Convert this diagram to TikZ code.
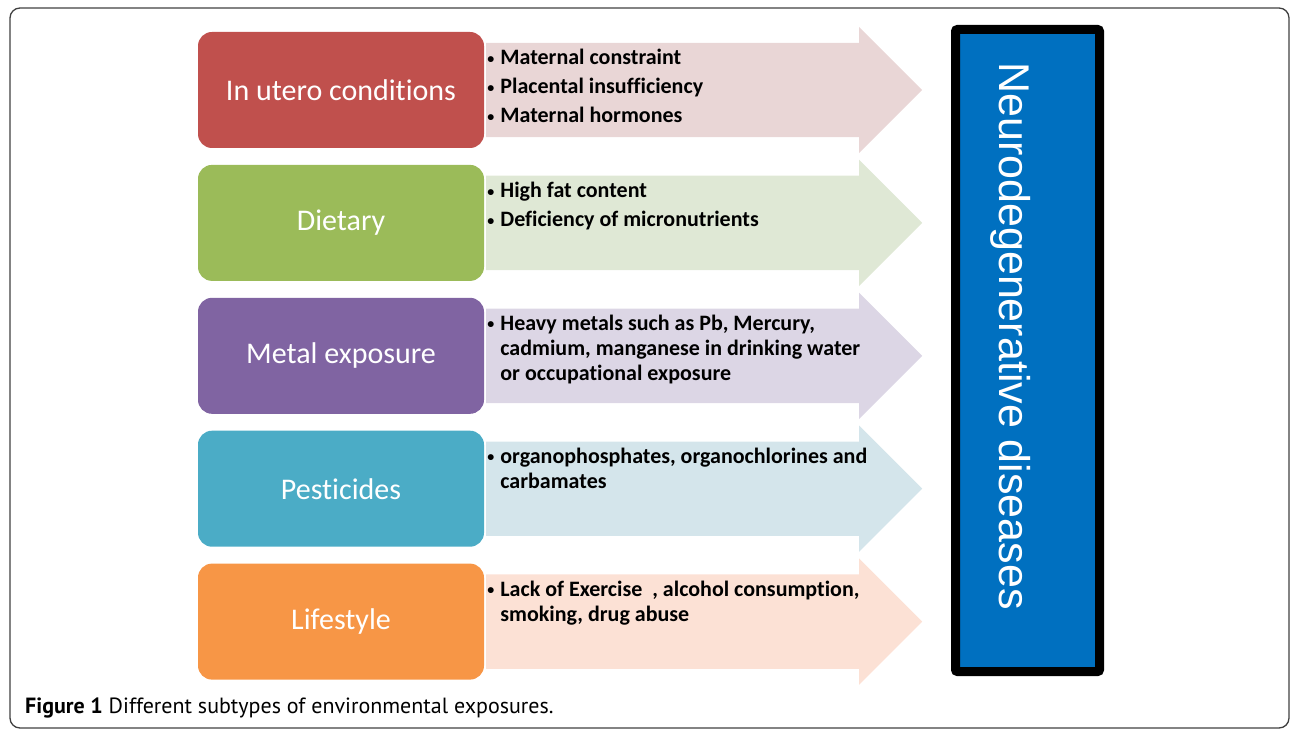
\documentclass[tikz,border=0pt]{standalone}
\usepackage{fontspec}
\setmainfont{Carlito}[Ligatures=NoCommon]
\newfontfamily\arialfont{Liberation Sans}
\newfontfamily\capfont{PT Sans}
\usetikzlibrary{positioning,shapes.arrows}

\definecolor{utred}{RGB}{192,80,77}
\definecolor{utredlight}{RGB}{233,214,214}
\definecolor{dietgreen}{RGB}{155,187,89}
\definecolor{dietgreenlight}{RGB}{223,232,213}
\definecolor{metalpurple}{RGB}{128,100,162}
\definecolor{metalpurplelight}{RGB}{220,214,229}
\definecolor{pestteal}{RGB}{75,172,198}
\definecolor{pesttealight}{RGB}{212,229,235}
\definecolor{lifeorange}{RGB}{247,150,70}
\definecolor{lifeorangelight}{RGB}{252,225,213}
\definecolor{ndblue}{RGB}{0,112,192}

% bullet and hanging indent for the arrow texts
\newcommand{\bul}{\makebox[13pt][l]{\raisebox{1.5pt}{\fontsize{14}{14}\selectfont\textbullet}}}
\newcommand{\ind}{\hspace*{13pt}}

\begin{document}
\begin{tikzpicture}[x=1pt,y=-1pt,
    exposure/.style={rectangle, rounded corners=14pt, minimum width=286pt,
      minimum height=116pt, inner sep=0pt, text=white,
      font=\fontsize{30}{36}\selectfont},
    flow/.style={single arrow, single arrow head extend=16pt,
      single arrow tip angle=90, inner xsep=0pt, inner ysep=47pt,
      minimum height=436pt, minimum width=0pt, outer sep=0pt, anchor=tail},
    bullets/.style={anchor=north west, align=left, inner sep=0pt,
      font=\bfseries\fontsize{22}{25}\selectfont}]
    \useasboundingbox (0,0) rectangle (1290,730);
    % Draw the outer frame
    \draw[black!75, line width=1.3pt, rounded corners=10pt] (10,8) rectangle (1289,728);
    % Draw the exposure boxes
    \node[exposure, fill=utred] (utbox) at (341,90) {In utero conditions};
    \node[exposure, fill=dietgreen, below=16.5pt of utbox] (dietbox) {Dietary};
    \node[exposure, fill=metalpurple, below=16.5pt of dietbox] (metalbox) {Metal exposure};
    \node[exposure, fill=pestteal, below=16.5pt of metalbox] (pestbox) {Pesticides};
    \node[exposure, fill=lifeorange, below=16.5pt of pestbox] (lifebox) {Lifestyle};
    % Draw the arrows
    \node[flow, fill=utredlight] (utflow) at ([xshift=2pt]utbox.east) {};
    \node[flow, fill=dietgreenlight] (dietflow) at ([xshift=2pt]dietbox.east) {};
    \node[flow, fill=metalpurplelight] (metalflow) at ([xshift=2pt]metalbox.east) {};
    \node[flow, fill=pesttealight] (pestflow) at ([xshift=2pt]pestbox.east) {};
    \node[flow, fill=lifeorangelight] (lifeflow) at ([xshift=2pt]lifebox.east) {};
    % Texts on the arrows
    \node[bullets] (uttext) at ([xshift=1pt,yshift=41pt]utflow.tail)
      {\bul Maternal constraint\\[4pt]\bul Placental insufficiency\\[4pt]\bul Maternal hormones};
    \node[bullets] (diettext) at ([xshift=1pt,yshift=41pt]dietflow.tail)
      {\bul High fat content\\[4pt]\bul Deficiency of micronutrients};
    \node[bullets] (metaltext) at ([xshift=1pt,yshift=41pt]metalflow.tail)
      {\bul Heavy metals such as Pb, Mercury,\\\ind cadmium, manganese in drinking water\\\ind or occupational exposure};
    \node[bullets] (pesttext) at ([xshift=1pt,yshift=41pt]pestflow.tail)
      {\bul organophosphates, organochlorines and\\\ind carbamates};
    \node[bullets] (lifetext) at ([xshift=1pt,yshift=41pt]lifeflow.tail)
      {\bul Lack of Exercise\ \ , alcohol consumption,\\\ind smoking, drug abuse};
    % Draw the disease box
    \draw[line width=9pt, fill=ndblue, rounded corners=2pt] (955.5,29.5) rectangle (1099.5,671.5);
    \node[rotate=-90, text=white, font=\arialfont\fontsize{43}{50}\selectfont] (ndtext)
      at (1011,336) {Neurodegenerative diseases};
    % Caption
    \node[anchor=base west, inner sep=0pt, font=\capfont\fontsize{22}{26}\selectfont] (caption)
      at (25,713) {\textbf{Figure 1} Different subtypes of environmental exposures.};
\end{tikzpicture}
\end{document}
